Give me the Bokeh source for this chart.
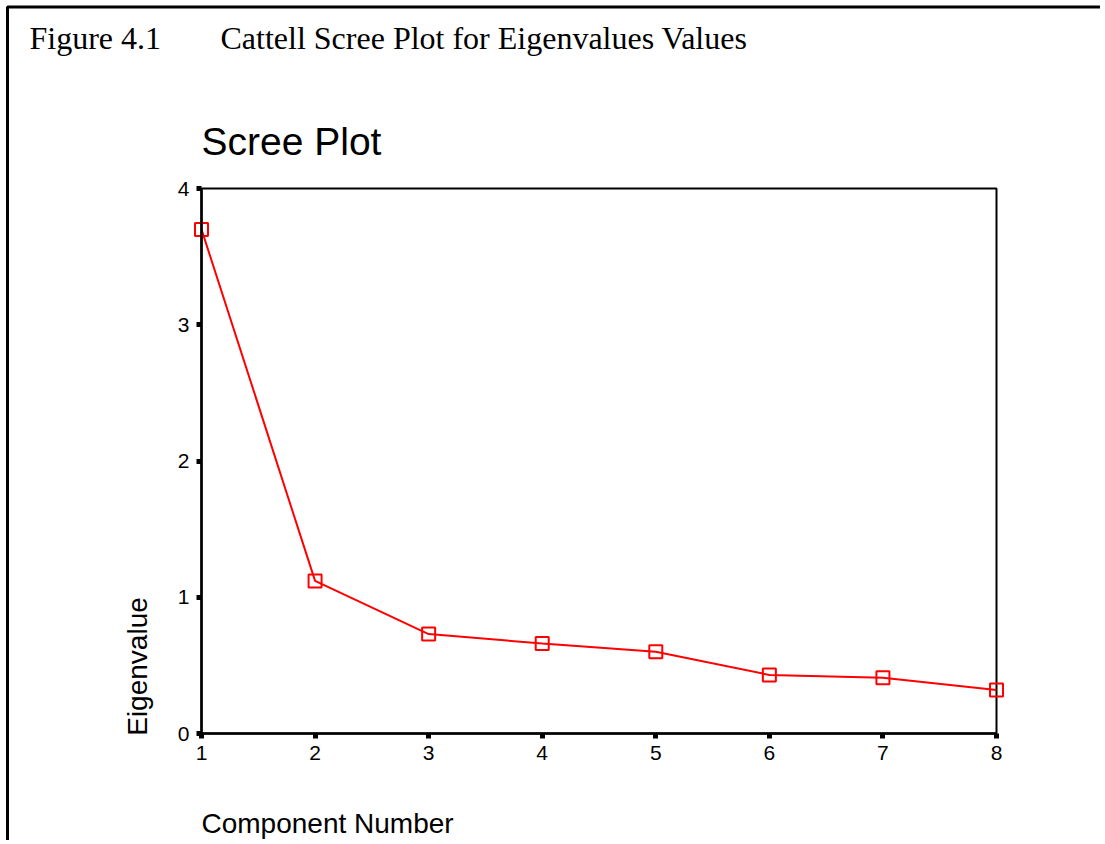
import math
from bokeh.plotting import figure
from bokeh.models import (Range1d, Label, PolyAnnotation, BoxAnnotation,
                          FixedTicker, LinearAxis)
from bokeh.embed import file_html
from bokeh.resources import INLINE

# ---- data ----
components = [1, 2, 3, 4, 5, 6, 7, 8]
eigenvalues = [3.70, 1.12, 0.73, 0.66, 0.60, 0.43, 0.41, 0.32]
y_ticks = [0, 1, 2, 3, 4]

figure_caption = "Figure 4.1"
figure_title = "Cattell Scree Plot for Eigenvalues Values"
chart_title = "Scree Plot"
x_label = "Component Number"
y_label = "Eigenvalue"

SANS = "Liberation Sans"
SERIF = "Liberation Serif"

# ---- layout (canvas pixels) ----
W, H = 1100, 840
PL, PR, PT, PB = 201, 996, 188, 733      # plot box edges
x_lo, x_hi = components[0], components[-1]
y_lo, y_hi = y_ticks[0], y_ticks[-1]
sx = (PR - PL) / (x_hi - x_lo)
sy = (PB - PT) / (y_hi - y_lo)
x_range = Range1d(x_lo - PL / sx, x_hi + (W - PR) / sx)
y_range = Range1d(y_lo - (H - PB) / sy, y_hi + PT / sy)

p = figure(
    width=W, height=H, x_range=x_range, y_range=y_range,
    x_axis_type=None, y_axis_type=None,
    output_backend="svg", toolbar_location=None, title=None,
    min_border=0, min_border_left=0, min_border_right=0,
    min_border_top=0, min_border_bottom=0,
    background_fill_color="white", border_fill_color="white",
)
p.outline_line_color = None
p.xgrid.visible = False
p.ygrid.visible = False

# plot box (top/right edges)
p.add_layout(BoxAnnotation(left=x_lo, right=x_hi, bottom=y_lo, top=y_hi,
                           fill_color=None, fill_alpha=0, line_color="black",
                           line_alpha=1.0, line_width=2, level="underlay"))

xaxis = LinearAxis(fixed_location=y_lo, bounds=(x_lo, x_hi),
                   ticker=FixedTicker(ticks=components))
yaxis = LinearAxis(fixed_location=x_lo, bounds=(y_lo, y_hi),
                   ticker=FixedTicker(ticks=y_ticks))
for ax in (xaxis, yaxis):
    ax.axis_line_width = 2.5
    ax.axis_line_color = "black"
    ax.major_tick_line_width = 5
    ax.major_tick_line_color = "black"
    ax.major_tick_out = 5
    ax.major_tick_in = 0
    ax.minor_tick_line_color = None
    ax.major_label_text_font = SANS
    ax.major_label_text_font_size = "21px"
    ax.major_label_text_color = "black"
    ax.major_label_standoff = 7
p.add_layout(xaxis, "below")
p.add_layout(yaxis, "left")

p.line(components, eigenvalues, line_color="red", line_width=2)
p.scatter(components, eigenvalues, marker="square", size=13, fill_color=None,
          line_color="red", line_width=2)

# outer document border (top and left edges visible)
p.add_layout(PolyAnnotation(
    xs=[7, 5000, 5000, 7], ys=[H - 6.5, H - 6.5, -5000, -5000],
    xs_units="screen", ys_units="screen",
    fill_color=None, fill_alpha=0, line_color="black", line_alpha=1.0, line_width=3,
))

BASE_SHIFT = 0.37  # rendered baseline sits ~0.37em below the anchor

def add_text(x, y, text, font, fs, angle=0.0, align="left"):
    # x, y: desired baseline point in canvas pixels from the top-left corner
    if angle:
        x = x - BASE_SHIFT * fs
    else:
        y = y - BASE_SHIFT * fs
    p.add_layout(Label(x=x, y=H - y, x_units="screen", y_units="screen",
                       text=text, text_font=font, text_font_size=f"{fs}px", angle=angle,
                       text_color="black", text_baseline="alphabetic", text_align=align))

add_text(29, 49, figure_caption, SERIF, 32)
add_text(220, 49, figure_title, SERIF, 32)
add_text(201, 155, chart_title, SANS, 39)
add_text(201, 833, x_label, SANS, 28)
add_text(147, 666, y_label, SANS, 28, angle=math.pi / 2, align="center")

open("out.html", "w").write(file_html(p, INLINE))
